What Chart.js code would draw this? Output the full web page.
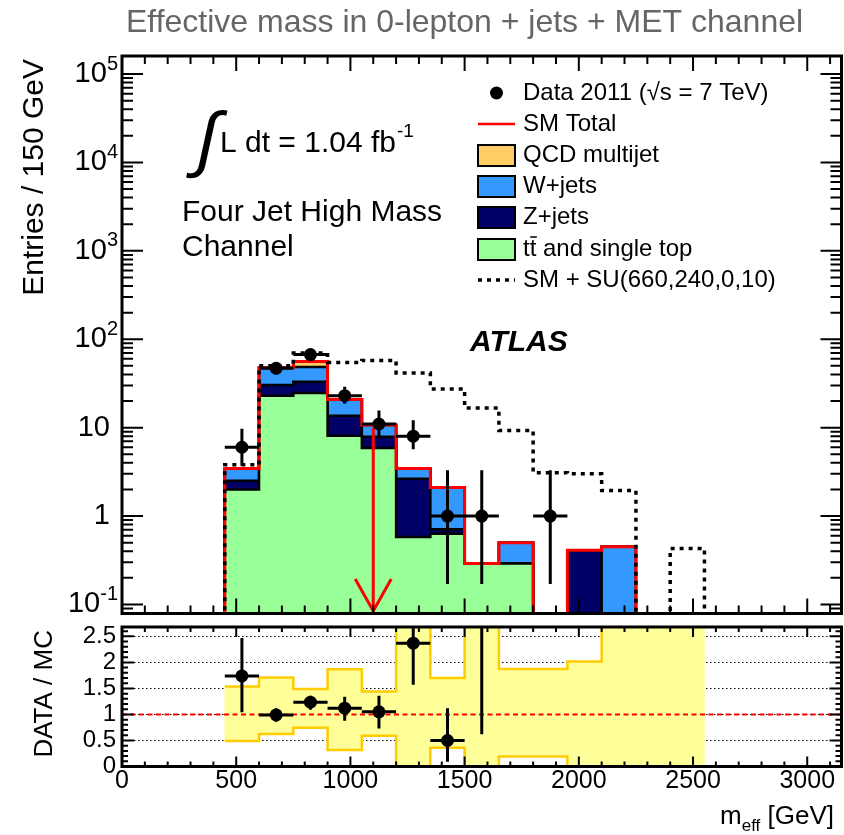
<!DOCTYPE html>
<html>
<head>
<meta charset="utf-8">
<script src="https://cdn.jsdelivr.net/npm/chart.js@4.4.1/dist/chart.umd.min.js"></script>
<style>
  html, body { margin: 0; padding: 0; background: #fff; overflow: hidden; }
  #wrap { position: relative; width: 844px; height: 835px; overflow: hidden; }
  #main { position: absolute; left: 0; top: 0; }
  #ratio { position: absolute; left: 0; top: 620px; }
</style>
</head>
<body>
<div id="wrap">
  <canvas id="main" width="848" height="620"></canvas>
  <canvas id="ratio" width="848" height="215"></canvas>
</div>
<script>
const FONT = '"Liberation Sans", Arial, Helvetica, sans-serif';

// axis ranges
const X_MIN = 0, X_MAX = 3150;
const Y_MIN = 0.079, Y_MAX = 1.6e5;
const R_MIN = 0, R_MAX = 2.68;
const FLOOR = 1e-3; // empty bins sit below the visible range

// SM background stack, 150 GeV bins from 450 to 2250 GeV
const MC_EDGES = [450, 600, 750, 900, 1050, 1200, 1350, 1500, 1650, 1800, 1950, 2100, 2250];
const TTBAR = [2.0, 22.9, 24.6, 8.1, 5.9, 0.58, 0.63, 0.29, 0.29, 0, 0, 0];
const ZJETS = [0.5, 7.5, 8.5, 5.5, 2.0, 2.07, 0.08, 0, 0, 0, 0.41, 0];
const WJETS = [0.95, 17.1, 15.4, 7.2, 2.8, 0.8, 1.39, 0, 0.21, 0, 0, 0.45];
const QCD = [0, 0, 7.6, 0, 0, 0, 0, 0, 0, 0, 0, 0];

// SM + SUSY signal point
const SIG_EDGES = [450, 600, 750, 900, 1050, 1200, 1350, 1500, 1650, 1800, 1950, 2100, 2250, 2400, 2550];
const SM_SU = [3.8, 50.2, 69.8, 54.7, 57.6, 41.5, 27.4, 16.7, 9.3, 3.08, 3.0, 1.94, 0, 0.43];

// data 2011
const DATA_X = [525, 675, 825, 975, 1125, 1275, 1425, 1575, 1875];
const DATA_Y = [6, 47, 67, 23, 11, 8, 1, 1, 1];
const DATA_LO = [3.7, 40, 59, 18.6, 7.7, 5.7, 0.17, 0.17, 0.17];
const DATA_HI = [9.7, 54, 75, 29, 15.6, 12.1, 3.3, 3.3, 3.3];
const HALF_BIN = 75;

// data / MC
const RATIO_Y = [1.74, 0.99, 1.235, 1.12, 1.05, 2.37, 0.5, 3.4, null];
const RATIO_LO = [1.04, 0.86, 1.09, 0.88, 0.73, 1.57, 0.09, 0.62, null];
const RATIO_HI = [2.47, 1.12, 1.36, 1.34, 1.36, 3.2, 1.12, 5.0, null];
const BAND_LO = [0.49, 0.625, 0.746, 0.317, 0.59, 0, 0.36, 0, 0.19, 0.19, 0, 0, 0, 0];
const BAND_HI = [1.535, 1.71, 1.49, 1.87, 1.44, 3, 1.7, 3, 1.875, 1.875, 2.015, 3, 3, 3];

// effective mass cut
const CUT_X = 1100;
const ARROW_TOP = 10;

const C = {
  ttbar: '#99ff99',
  z: '#000066',
  w: '#3399ff',
  qcd: '#ffcc66',
  red: '#ff0000',
  band: '#ffff99',
  bandLine: '#ffcc00',
};

function stepPoints(edges, values) {
  const pts = [{ x: edges[0], y: FLOOR }];
  values.forEach((v, i) => pts.push({ x: edges[i], y: v > 0 ? v : FLOOR }));
  pts.push({ x: edges[edges.length - 1], y: FLOOR });
  return pts;
}

function stepOutline(edges, values) {
  const pts = values.map((v, i) => ({ x: edges[i], y: v }));
  pts.push({ x: edges[edges.length - 1], y: values[values.length - 1] });
  return pts;
}

function errorSegments(xs, ys, lo, hi) {
  const pts = [];
  xs.forEach((x, i) => {
    if (ys[i] === null) return;
    pts.push({ x, y: lo[i] }, { x, y: hi[i] }, { x, y: null });
    pts.push({ x: x - HALF_BIN, y: ys[i] }, { x: x + HALF_BIN, y: ys[i] }, { x, y: null });
  });
  return pts;
}

const sumOf = (...series) => series[0].map((_, i) => series.reduce((s, a) => s + a[i], 0));
const lvlTop = sumOf(TTBAR, ZJETS, WJETS);
const smTotal = sumOf(TTBAR, ZJETS, WJETS, QCD);
const lvlZ = sumOf(TTBAR, ZJETS);

function txt(ctx, s, x, y, size, opts = {}) {
  ctx.font = `${opts.weight || ''} ${opts.style || ''} ${size}px ${opts.family || FONT}`;
  ctx.fillStyle = opts.color || '#000';
  ctx.textAlign = opts.align || 'left';
  ctx.textBaseline = opts.baseline || 'alphabetic';
  ctx.fillText(s, x, y);
  return ctx.measureText(s).width;
}

function drawArrow(chart) {
  const { ctx, chartArea: a, scales: { x, y } } = chart;
  const px = x.getPixelForValue(CUT_X);
  const top = y.getPixelForValue(ARROW_TOP);
  const tip = a.bottom - 2.5;
  ctx.save();
  ctx.strokeStyle = C.red;
  ctx.lineWidth = 3;
  ctx.beginPath();
  ctx.moveTo(px, top);
  ctx.lineTo(px, tip);
  ctx.moveTo(px - 18, tip - 32);
  ctx.lineTo(px, tip);
  ctx.lineTo(px + 18, tip - 32);
  ctx.stroke();
  ctx.restore();
}

function drawLegend(ctx) {
  const bx = 478, bw = 37, tx = 523;
  const rows = [93, 124, 155, 186, 217, 249, 280];
  ctx.save();
  // data marker
  ctx.fillStyle = '#000';
  ctx.beginPath();
  ctx.arc(bx + bw / 2, rows[0], 6.5, 0, Math.PI * 2);
  ctx.fill();
  txt(ctx, 'Data 2011 (\u221As = 7 TeV)', tx, rows[0], 24, { baseline: 'middle' });
  // SM total
  ctx.strokeStyle = C.red;
  ctx.lineWidth = 2.5;
  ctx.beginPath();
  ctx.moveTo(bx, rows[1]);
  ctx.lineTo(bx + bw, rows[1]);
  ctx.stroke();
  txt(ctx, 'SM Total', tx, rows[1], 24, { baseline: 'middle' });
  // filled boxes
  const boxes = [
    [C.qcd, 'QCD multijet'],
    [C.w, 'W+jets'],
    [C.z, 'Z+jets'],
    [C.ttbar, 'tt and single top'],
  ];
  boxes.forEach(([col, label], i) => {
    const cy = rows[i + 2];
    ctx.fillStyle = col;
    ctx.fillRect(bx, cy - 10, bw, 21);
    ctx.strokeStyle = '#000';
    ctx.lineWidth = 2;
    ctx.strokeRect(bx, cy - 10, bw, 21);
    txt(ctx, label, tx, cy, 24, { baseline: 'middle' });
  });
  // bar over the second t
  ctx.font = `24px ${FONT}`;
  const tw = ctx.measureText('t').width;
  ctx.strokeStyle = '#000';
  ctx.lineWidth = 1.5;
  ctx.beginPath();
  ctx.moveTo(tx + tw + 0.5, rows[5] - 12);
  ctx.lineTo(tx + 2 * tw + 0.5, rows[5] - 12);
  ctx.stroke();
  // signal
  ctx.strokeStyle = '#000';
  ctx.lineWidth = 3.5;
  ctx.setLineDash([4, 5]);
  ctx.beginPath();
  ctx.moveTo(bx, rows[6]);
  ctx.lineTo(bx + bw, rows[6]);
  ctx.stroke();
  ctx.setLineDash([]);
  txt(ctx, 'SM + SU(660,240,0,10)', tx, rows[6], 24, { baseline: 'middle' });
  ctx.restore();
}

const mainDecor = {
  id: 'mainDecor',
  afterDatasetDraw(chart, args) {
    if (chart.data.datasets[args.index].label === 'SM Total') drawArrow(chart);
  },
  afterDraw(chart) {
    const { ctx, chartArea: a, scales: { x, y } } = chart;
    ctx.save();
    ctx.strokeStyle = '#000';
    ctx.lineWidth = 2;
    ctx.beginPath();
    for (let v = X_MIN; v <= X_MAX; v += 100) {
      const px = x.getPixelForValue(v);
      const len = v % 500 === 0 ? 15 : 8;
      ctx.moveTo(px, a.bottom);
      ctx.lineTo(px, a.bottom - len);
      ctx.moveTo(px, a.top);
      ctx.lineTo(px, a.top + len);
    }
    for (let e = -2; e <= 5; e++) {
      for (let m = 1; m <= 9; m++) {
        const v = m * Math.pow(10, e);
        if (v < Y_MIN || v > Y_MAX) continue;
        const py = y.getPixelForValue(v);
        const len = m === 1 ? 21 : 11;
        ctx.moveTo(a.left, py);
        ctx.lineTo(a.left + len, py);
        ctx.moveTo(a.right, py);
        ctx.lineTo(a.right - len, py);
      }
    }
    ctx.stroke();
    ctx.lineWidth = 3;
    ctx.strokeRect(a.left, a.top, a.right - a.left, a.bottom - a.top);

    // y labels
    for (let e = -1; e <= 5; e++) {
      const py = y.getPixelForValue(Math.pow(10, e));
      if (e === 0 || e === 1) {
        txt(ctx, e === 0 ? '1' : '10', 110, py, 29, { align: 'right', baseline: 'middle' });
      } else {
        const w = txt(ctx, String(e), 118, py - 10, 20, { align: 'right', baseline: 'middle' });
        txt(ctx, '10', 118 - w, py, 29, { align: 'right', baseline: 'middle' });
      }
    }

    // axis title
    ctx.save();
    ctx.translate(35, a.top + 3);
    ctx.rotate(-Math.PI / 2);
    txt(ctx, 'Entries / 150 GeV', 0, 0, 30, { align: 'right', baseline: 'middle' });
    ctx.restore();

    // title
    txt(ctx, 'Effective mass in 0-lepton + jets + MET channel', 126, 32, 32, { color: '#666' });

    // luminosity and channel, with a slanted integral sign
    ctx.save();
    ctx.translate(207, 143);
    ctx.transform(1, 0, -0.22, 1, 0, 0);
    txt(ctx, '\u222B', 0, 0, 72, { align: 'center', baseline: 'middle' });
    ctx.restore();
    const w = txt(ctx, 'L dt = 1.04 fb', 220, 152, 30);
    txt(ctx, '-1', 220 + w + 1, 137, 19);
    txt(ctx, 'Four Jet High Mass', 182, 221, 30);
    txt(ctx, 'Channel', 182, 256, 30);
    txt(ctx, 'ATLAS', 470, 351, 30, { weight: 'bold', style: 'italic' });

    drawLegend(ctx);
    ctx.restore();
  },
};

const ratioDecor = {
  id: 'ratioDecor',
  beforeDatasetsDraw(chart) {
    const { ctx, chartArea: a, scales: { y } } = chart;
    ctx.save();
    ctx.strokeStyle = '#000';
    ctx.lineWidth = 1;
    ctx.setLineDash([1.5, 2.5]);
    ctx.beginPath();
    for (let v = 0.5; v <= R_MAX; v += 0.5) {
      const py = Math.round(y.getPixelForValue(v)) + 0.5;
      ctx.moveTo(a.left, py);
      ctx.lineTo(a.right, py);
    }
    ctx.stroke();
    ctx.restore();
  },
  afterDraw(chart) {
    const { ctx, chartArea: a, scales: { x, y } } = chart;
    ctx.save();
    ctx.strokeStyle = '#000';
    ctx.lineWidth = 2;
    ctx.beginPath();
    for (let v = X_MIN; v <= X_MAX; v += 100) {
      const px = x.getPixelForValue(v);
      const len = v % 500 === 0 ? 10 : 5;
      ctx.moveTo(px, a.bottom);
      ctx.lineTo(px, a.bottom - len);
      ctx.moveTo(px, a.top);
      ctx.lineTo(px, a.top + len);
    }
    for (let k = 0; k <= 26; k++) {
      const py = y.getPixelForValue(k / 10);
      const len = k % 5 === 0 ? 12 : 6;
      ctx.moveTo(a.left, py);
      ctx.lineTo(a.left + len, py);
      ctx.moveTo(a.right, py);
      ctx.lineTo(a.right - len, py);
    }
    ctx.stroke();
    ctx.lineWidth = 3;
    ctx.strokeRect(a.left, a.top, a.right - a.left, a.bottom - a.top);

    ['0', '0.5', '1', '1.5', '2', '2.5'].forEach((s) => {
      txt(ctx, s, 116, y.getPixelForValue(parseFloat(s)), 24, { align: 'right', baseline: 'middle' });
    });
    for (let v = 0; v <= 3000; v += 500) {
      txt(ctx, String(v), x.getPixelForValue(v), a.bottom + 15, 25, { align: 'center', baseline: 'middle' });
    }

    ctx.save();
    ctx.translate(45, a.top + 3);
    ctx.rotate(-Math.PI / 2);
    txt(ctx, 'DATA / MC', 0, 0, 26, { align: 'right', baseline: 'middle' });
    ctx.restore();

    // m_eff [GeV]
    ctx.font = `26px ${FONT}`;
    const wm = ctx.measureText('m').width;
    const wg = ctx.measureText(' [GeV]').width;
    ctx.font = `17px ${FONT}`;
    const we = ctx.measureText('eff').width;
    const x0 = 834 - wm - we - wg;
    const base = 204;
    txt(ctx, 'm', x0, base, 26);
    txt(ctx, 'eff', x0 + wm, base + 7, 17);
    txt(ctx, ' [GeV]', x0 + wm + we, base, 26);
    ctx.restore();
  },
};

const line = (extra) => Object.assign({ type: 'line', pointRadius: 0, fill: false, spanGaps: false }, extra);

new Chart(document.getElementById('main'), {
  type: 'line',
  data: {
    datasets: [
      line({ label: 'Data 2011', data: DATA_X.map((x, i) => ({ x, y: DATA_Y[i] })), showLine: false,
        pointRadius: 6.5, pointBackgroundColor: '#000', pointBorderWidth: 0, order: 0 }),
      line({ label: 'data errors', data: errorSegments(DATA_X, DATA_Y, DATA_LO, DATA_HI),
        borderColor: '#000', borderWidth: 3, order: 1 }),
      line({ label: 'SM + SU(660,240,0,10)', data: stepPoints(SIG_EDGES, SM_SU), stepped: 'before',
        borderColor: '#000', borderWidth: 3.5, borderDash: [4, 5], order: 2 }),
      line({ label: 'SM Total', data: stepPoints(MC_EDGES, smTotal), stepped: 'before',
        borderColor: C.red, borderWidth: 3, order: 3 }),
      line({ label: 'tt and single top', data: stepPoints(MC_EDGES, TTBAR), stepped: 'before', fill: 'start',
        backgroundColor: C.ttbar, borderColor: '#000', borderWidth: 2.5, order: 4 }),
      line({ label: 'Z+jets', data: stepPoints(MC_EDGES, lvlZ), stepped: 'before', fill: 'start',
        backgroundColor: C.z, borderColor: '#000', borderWidth: 2.5, order: 5 }),
      line({ label: 'W+jets', data: stepPoints(MC_EDGES, lvlTop), stepped: 'before', fill: 'start',
        backgroundColor: C.w, borderColor: '#000', borderWidth: 2.5, order: 6 }),
      line({ label: 'QCD multijet', data: stepPoints(MC_EDGES, smTotal), stepped: 'before', fill: 'start',
        backgroundColor: C.qcd, borderColor: '#000', borderWidth: 2.5, order: 7 }),
    ],
  },
  options: {
    responsive: false,
    animation: false,
    devicePixelRatio: 1,
    events: [],
    layout: { padding: { left: 122, top: 56, right: 2, bottom: 6 } },
    scales: {
      x: { type: 'linear', min: X_MIN, max: X_MAX, offset: false, display: false },
      y: { type: 'logarithmic', min: Y_MIN, max: Y_MAX, display: false },
    },
    plugins: { legend: { display: false }, tooltip: { enabled: false } },
  },
  plugins: [mainDecor],
});

const bandCenters = SIG_EDGES.slice(0, -1).map((e, i) => (e + SIG_EDGES[i + 1]) / 2);

new Chart(document.getElementById('ratio'), {
  type: 'line',
  data: {
    datasets: [
      line({ label: 'ratio', data: DATA_X.map((x, i) => ({ x, y: RATIO_Y[i] })), showLine: false,
        pointRadius: 6.5, pointBackgroundColor: '#000', pointBorderWidth: 0, order: 0 }),
      line({ label: 'ratio errors', data: errorSegments(DATA_X, RATIO_Y, RATIO_LO, RATIO_HI),
        borderColor: '#000', borderWidth: 3, order: 1 }),
      line({ label: 'unity', data: [{ x: X_MIN, y: 1 }, { x: X_MAX, y: 1 }],
        borderColor: C.red, borderWidth: 2, borderDash: [5, 3.5], order: 2 }),
      line({ label: 'band up', data: stepOutline(SIG_EDGES, BAND_HI), stepped: 'before',
        borderColor: C.bandLine, borderWidth: 2.5, order: 3 }),
      line({ label: 'band down', data: stepOutline(SIG_EDGES, BAND_LO), stepped: 'before',
        borderColor: C.bandLine, borderWidth: 2.5, order: 3 }),
      {
        type: 'bar', label: 'MC uncertainty',
        data: bandCenters.map((x, i) => ({ x, y: [BAND_LO[i], BAND_HI[i]] })),
        backgroundColor: C.band, borderWidth: 0, barPercentage: 1, categoryPercentage: 1, order: 4,
      },
    ],
  },
  options: {
    responsive: false,
    animation: false,
    devicePixelRatio: 1,
    events: [],
    layout: { padding: { left: 122, top: 7, right: 2, bottom: 68.5 } },
    scales: {
      x: { type: 'linear', min: X_MIN, max: X_MAX, offset: false, display: false, grid: { offset: false } },
      y: { type: 'linear', min: R_MIN, max: R_MAX, display: false },
    },
    plugins: { legend: { display: false }, tooltip: { enabled: false } },
  },
  plugins: [ratioDecor],
});
</script>
</body>
</html>
